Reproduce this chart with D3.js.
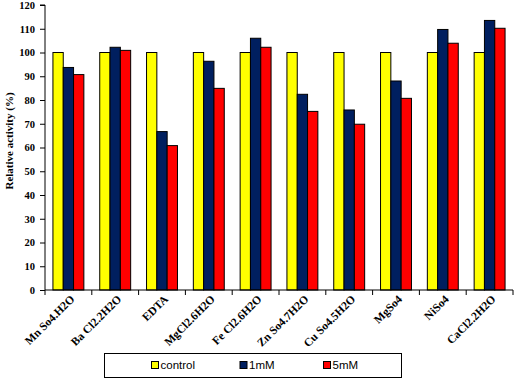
<!DOCTYPE html>
<html><head><meta charset="utf-8">
<script src="https://cdn.jsdelivr.net/npm/d3@7"></script>
<style>body{margin:0;background:#fff}svg{display:block}</style>
</head><body>
<svg id="c" width="514" height="379"></svg>
<script>
const categories = ["Mn So4.H2O","Ba Cl2.2H2O","EDTA","MgCl2.6H2O","Fe Cl2.6H2O","Zn So4.7H2O","Cu So4.5H2O","MgSo4","NiSo4","CaCl2.2H2O"];
const seriesNames = ["control","1mM","5mM"];
const control = [100,100,100,100,100,100,100,100,100,100];
const mM1 = [93.7,102.2,66.7,96.3,106.0,82.4,75.8,88.0,109.7,113.5];
const mM5 = [90.7,100.9,60.8,84.9,102.2,75.2,69.8,80.7,103.9,110.2];
const yTicks = [0,10,20,30,40,50,60,70,80,90,100,110,120];
const colors = ["#ffff00","#001f5f","#ff0000"];

(function(){
const series = [control, mM1, mM5];
const svg = d3.select("#c");
const pLeft = 45, pRight = 513, pTop = 5, pBottom = 290;
const x = d3.scaleBand().domain(categories).range([pLeft, pRight]).paddingInner(0).paddingOuter(0);
const x1 = d3.scaleBand().domain(seriesNames).range([0, x.bandwidth()]).paddingOuter(0.77);
const y = d3.scaleLinear().domain([0,120]).range([pBottom, pTop]);

categories.forEach((c, i) => {
  seriesNames.forEach((s, j) => {
    svg.append("rect")
      .attr("x", x(c) + x1(s))
      .attr("y", y(series[j][i]))
      .attr("width", x1.bandwidth())
      .attr("height", y(0) - y(series[j][i]))
      .attr("fill", colors[j])
      .attr("stroke", "#000")
      .attr("stroke-width", 1);
  });
});

const yAxis = d3.axisLeft(y).tickValues(yTicks).tickSize(5).tickPadding(5);
const gy = svg.append("g").attr("transform", `translate(${pLeft},0)`).call(yAxis);
gy.select(".domain").attr("stroke", "#000").attr("d", `M-5,${pTop}H0V${pBottom}`);
gy.selectAll("text").attr("font-family", "'Liberation Serif', 'Times New Roman', serif")
  .attr("font-weight", "bold").attr("font-size", "10.5px").attr("fill", "#000");

const edges = categories.map(c => x(c)).concat([pRight]);
svg.append("line").attr("x1", pLeft).attr("x2", pRight).attr("y1", pBottom).attr("y2", pBottom).attr("stroke", "#000");
svg.selectAll(".xt").data(edges).enter().append("line")
  .attr("x1", d => d).attr("x2", d => d).attr("y1", pBottom).attr("y2", pBottom + 5).attr("stroke", "#000");
svg.selectAll(".xl").data(categories).enter().append("text")
  .attr("transform", d => `translate(${x(d) + x.bandwidth()/2 + 4},${pBottom + 7}) rotate(-45)`)
  .attr("text-anchor", "end")
  .attr("dy", "0.35em")
  .attr("font-family", "'Liberation Serif', 'Times New Roman', serif")
  .attr("font-weight", "bold").attr("font-size", "11.5px")
  .text(d => d);

svg.append("text")
  .attr("transform", `translate(9,141) rotate(-90)`)
  .attr("text-anchor", "middle").attr("dy", "0.35em")
  .attr("font-family", "'Liberation Serif', 'Times New Roman', serif")
  .attr("font-weight", "bold").attr("font-size", "11px")
  .text("Relative activity (%)");

svg.append("rect").attr("x", 104.5).attr("y", 353.5).attr("width", 297).attr("height", 24)
  .attr("fill", "#fff").attr("stroke", "#000").attr("stroke-width", 1);
const legX = [151, 239.5, 323];
seriesNames.forEach((s, j) => {
  svg.append("rect").attr("x", legX[j] + 0.5).attr("y", 361.5).attr("width", 7).attr("height", 7)
    .attr("fill", colors[j]).attr("stroke", "#000").attr("stroke-width", 1);
  svg.append("text").attr("x", legX[j] + 9.5).attr("y", 365).attr("dy", "0.35em")
    .attr("font-family", "'Liberation Sans', Arial, sans-serif").attr("font-size", "11.5px")
    .text(s);
});
})();
</script>
</body></html>
